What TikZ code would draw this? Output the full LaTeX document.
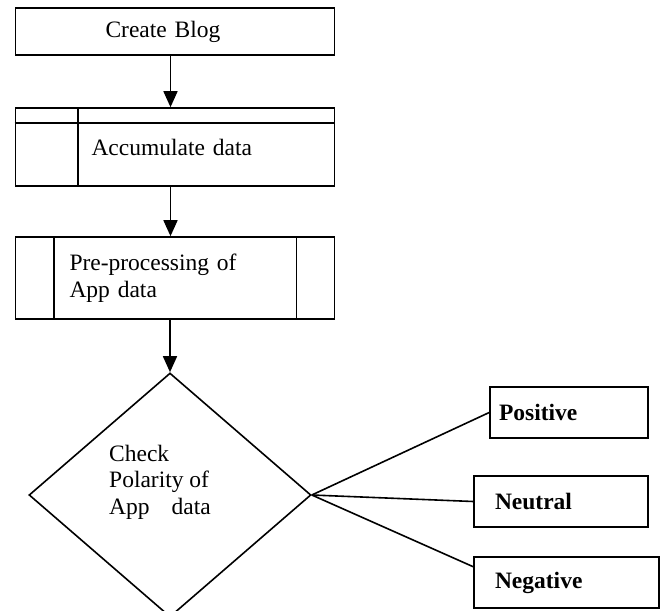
\documentclass[tikz,border=0pt]{standalone}
\usepackage{fontspec}
\setmainfont{Liberation Serif}
\usetikzlibrary{shapes.geometric,arrows.meta,calc}
\begin{document}
\begin{tikzpicture}[x=1pt,y=-1pt,
  every node/.style={font=\fontsize{23.5}{26.5}\selectfont},
  box/.style={draw,line width=1.6pt,rectangle,align=left,inner ysep=0pt},
  result/.style={box,minimum height=51pt,font=\fontsize{23.5}{26.5}\selectfont\bfseries},
  decision/.style={draw,diamond,line width=1.6pt,minimum width=282pt,minimum height=244pt,inner sep=0pt},
  flow/.style={line width=1.6pt,-{Triangle[width=14pt,length=16pt]}},
  link/.style={line width=1.6pt}]
\useasboundingbox (0,0) rectangle (662,611);
\clip (0,0) rectangle (662,611);

\node[box,minimum height=47pt,inner xsep=90pt,text width=139pt] (b1) at (175,31.5) {Create Blog};
\node[box,minimum height=78pt,inner xsep=76pt,text width=167pt] (b2) at (175,147) {Accumulate data};
\draw[link] ($(b2.north west)+(0,16)$) -- ($(b2.north east)+(0,16)$);
\draw[link] ($(b2.north west)+(63,0)$) -- ($(b2.south west)+(63,0)$);

\node[box,minimum height=82pt,inner xsep=54pt,text width=211pt] (b3) at (175,278) {Pre-processing of\\App data};
\draw[link] ($(b3.north west)+(39,0)$) -- ($(b3.south west)+(39,0)$);
\draw[link] ($(b3.north east)+(-39,0)$) -- ($(b3.south east)+(-39,0)$);

\node[decision] (d) at (170,495) {};
\node[align=left,anchor=west,inner sep=0pt] (dt) at (109,482) {Check\\Polarity of\\App\hspace{22pt}data};

\node[result,inner xsep=9pt,text width=140pt] (pos) at (569,412.5) {Positive};
\node[result,inner xsep=21pt,text width=132pt] (neu) at (561,501.5) {Neutral};
\node[result,inner xsep=21pt,text width=143pt] (neg) at (566.5,582.5) {Negative};

\draw[flow] ([xshift=-4.5pt]b1.south) -- ([xshift=-4.5pt]b2.north);
\draw[flow] ([xshift=-4.5pt]b2.south) -- ([xshift=-4.5pt]b3.north);
\draw[flow] ([xshift=-5pt]b3.south) -- (d.north);

\draw[link] (d.east) -- (pos.west);
\draw[link] (d.east) -- (neu.west);
\draw[link] (d.east) -- ($(neg.north west)!0.2!(neg.south west)$);
\end{tikzpicture}
\end{document}
